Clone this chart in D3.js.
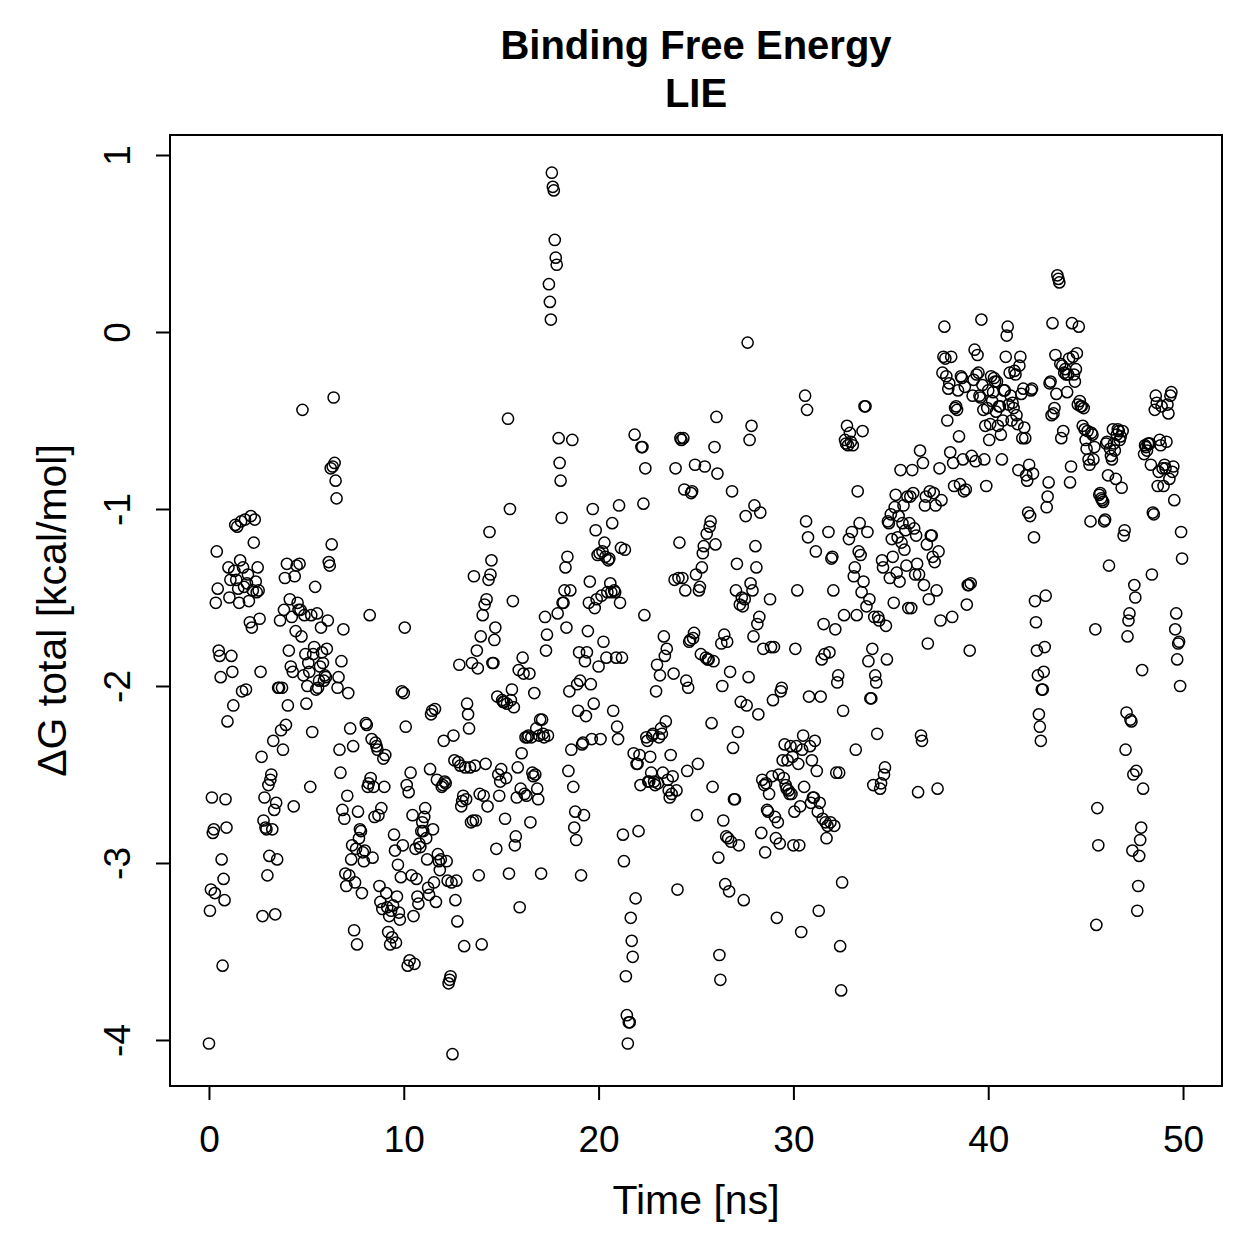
<!DOCTYPE html>
<html>
<head>
<meta charset="utf-8">
<script src="https://cdn.jsdelivr.net/npm/d3@7"></script>
<style>
  body { margin: 0; background: #fff; }
  text { font-family: "Liberation Sans", Arial, Helvetica, sans-serif; }
</style>
</head>
<body>
<div id="chart"></div>
<script>
// LIE binding free energy, one sample every 0.05 ns
const sampleStep = 0.05
const blockStarts = [0, 10, 20, 30, 40]

const dG_0_10 = [
  -4.02,-3.27,-3.15,-2.63,-2.83,-2.81,-3.17,-1.53,-1.24,-1.45,-1.80,-1.83,-1.95,-2.98,-3.58,-3.09,-3.21,-2.64,-2.80,-2.20,
  -1.33,-1.50,-1.40,-1.83,-1.92,-2.11,-1.35,-1.09,-1.40,-1.10,-1.45,-1.53,-1.29,-1.07,-2.03,-1.33,-1.44,-1.06,-2.02,-1.42,
  -1.37,-1.52,-1.64,-1.04,-1.67,-1.46,-1.19,-1.06,-1.41,-1.47,-1.33,-1.46,-1.62,-1.92,-2.40,-3.30,-2.76,-2.63,-2.80,-2.81,
  -3.07,-2.56,-2.96,-2.53,-2.50,-2.81,-2.31,-2.70,-3.29,-2.66,-2.98,-2.01,-2.01,-1.63,-2.25,-2.01,-2.36,-1.57,-1.39,-2.22,
  -1.31,-2.11,-1.80,-1.51,-1.89,-1.61,-1.92,-2.68,-1.38,-1.69,-1.32,-1.53,-1.57,-1.31,-1.57,-1.72,-0.44,-1.94,-1.60,-1.82,
  -2.10,-2.00,-1.87,-1.92,-2.57,-1.60,-2.26,-1.82,-1.78,-1.44,-2.02,-1.59,-2.01,-1.97,-1.89,-1.67,-1.81,-1.87,-1.97,-1.94,
  -1.95,-1.79,-1.63,-1.30,-1.32,-0.77,-1.20,-0.76,-0.37,-0.74,-0.84,-0.94,-2.01,-1.95,-2.36,-2.49,-1.86,-2.70,-1.68,-2.75,
  -3.06,-3.13,-2.62,-2.04,-3.07,-2.24,-2.98,-2.90,-2.34,-3.38,-3.11,-2.92,-3.46,-2.71,-2.86,-2.81,-2.82,-3.17,-2.94,-2.99,
  -2.93,-2.21,-2.22,-2.57,-2.55,-1.60,-2.52,-2.30,-2.97,-2.57,-2.74,-2.32,-2.34,-2.36,-2.73,-3.13,-3.22,-2.69,-3.26,-2.41,
  -2.57,-2.39,-3.17,-3.25,-3.39,-3.30,-3.46,-3.27,-3.42,-3.24,-2.84,-2.93,-3.45,-3.19,-3.01,-3.28,-3.32,-3.08,-2.03,-2.90
]
const dG_10_20 = [
  -2.04,-1.67,-2.23,-2.56,-3.58,-2.60,-3.55,-2.49,-3.07,-2.73,-3.30,-3.57,-2.92,-3.09,-3.19,-3.23,-2.89,-2.91,-2.82,-2.77,
  -2.82,-2.74,-2.69,-2.86,-2.98,-3.14,-3.18,-2.47,-2.16,-2.14,-2.81,-3.11,-2.13,-3.22,-2.53,-2.95,-2.99,-3.04,-2.98,-2.57,
  -2.56,-2.31,-2.54,-2.55,-2.99,-3.10,-3.68,-3.66,-3.64,-3.11,-4.08,-2.28,-2.42,-3.21,-3.10,-3.33,-2.43,-1.88,-2.45,-2.68,
  -2.65,-2.62,-3.47,-2.46,-2.64,-2.10,-2.16,-2.24,-2.46,-2.77,-1.87,-2.76,-1.38,-2.45,-2.76,-1.80,-1.90,-3.07,-2.61,-1.72,
  -3.46,-1.60,-2.62,-1.54,-2.44,-1.51,-2.68,-1.40,-1.13,-1.37,-1.29,-1.87,-1.87,-1.74,-1.67,-2.92,-2.06,-2.50,-2.62,-2.54,
  -2.47,-2.08,-2.09,-2.09,-2.75,-2.52,-2.10,-0.49,-3.06,-1.00,-2.08,-2.02,-1.52,-2.12,-2.90,-2.85,-2.63,-2.46,-1.91,-3.25,
  -2.58,-2.38,-1.84,-1.93,-2.61,-2.29,-2.62,-2.29,-2.28,-1.93,-2.77,-2.29,-2.49,-2.51,-2.04,-2.50,-2.24,-2.58,-2.64,-2.28,
  -2.19,-3.06,-2.19,-2.27,-2.29,-1.61,-1.80,-1.71,-2.28,0.27,0.17,0.07,0.90,0.82,0.80,0.52,0.42,0.38,-1.59,-0.60,
  -0.74,-0.84,-1.05,-1.53,-1.53,-1.46,-1.33,-1.67,-1.27,-2.48,-2.03,-1.46,-2.36,-0.61,-2.57,-2.80,-2.71,-2.87,-1.99,-2.14,
  -1.81,-1.97,-3.07,-2.33,-2.32,-2.73,-1.86,-2.17,-1.81,-1.69,-1.53,-1.41,-1.99,-2.30,-1.00,-2.10,-1.56,-1.12,-1.51,-1.26
]
const dG_20_30 = [
  -1.89,-1.25,-2.30,-1.49,-1.24,-1.75,-1.19,-1.27,-1.84,-1.47,-1.29,-1.28,-1.42,-1.47,-1.08,-2.14,-1.46,-1.47,-1.84,-2.23,
  -2.30,-0.98,-1.53,-1.22,-1.84,-2.84,-2.99,-1.23,-3.64,-3.86,-4.02,-3.90,-3.90,-3.31,-3.44,-3.53,-2.38,-0.58,-3.20,-2.44,
  -2.44,-2.82,-2.39,-2.56,-0.65,-0.65,-0.97,-1.60,-0.77,-2.29,-2.31,-2.54,-2.54,-2.40,-2.49,-2.28,-2.27,-2.54,-2.56,-2.03,
  -1.88,-2.55,-2.29,-1.94,-2.24,-2.27,-2.49,-1.72,-1.83,-2.20,-1.79,-2.53,-2.59,-2.63,-2.39,-2.61,-2.51,-1.93,-1.40,-0.77,
  -2.59,-3.15,-1.39,-1.19,-0.60,-0.61,-1.39,-0.60,-0.89,-1.46,-1.97,-2.48,-2.01,-1.75,-1.74,-0.91,-0.90,-1.73,-1.70,-0.75,
  -1.37,-2.73,-2.44,-1.46,-1.44,-1.82,-1.33,-1.25,-1.21,-0.76,-1.84,-1.14,-1.85,-1.85,-1.10,-1.07,-2.21,-2.57,-1.86,-0.65,
  -1.20,-0.48,-0.80,-2.97,-3.52,-3.66,-1.76,-2.00,-2.76,-1.71,-3.12,-2.85,-1.75,-2.86,-3.16,-1.92,-2.88,-0.90,-2.35,-2.64,
  -2.64,-1.46,-1.31,-2.26,-2.90,-1.54,-2.09,-1.50,-1.55,-3.21,-1.51,-1.04,-2.11,-0.06,-1.95,-0.61,-1.42,-0.53,-1.46,-1.72,
  -0.98,-1.21,-1.33,-1.65,-2.16,-1.61,-1.02,-2.83,-2.53,-1.79,-2.56,-2.94,-2.55,-2.70,-2.71,-2.61,-1.51,-1.78,-2.51,-2.08,
  -1.78,-2.74,-2.86,-3.31,-2.77,-2.50,-2.89,-2.03,-2.01,-2.42,-2.52,-2.33,-2.56,-2.58,-2.42,-2.59,-2.61,-2.34,-2.61,-2.40
]
const dG_30_40 = [
  -2.90,-2.71,-1.79,-2.34,-1.46,-2.44,-2.90,-2.68,-3.39,-2.36,-2.28,-2.57,-0.36,-1.07,-0.44,-1.16,-2.06,-2.34,-2.66,-2.42,
  -2.63,-2.63,-2.31,-1.24,-2.48,-2.71,-3.27,-2.66,-2.06,-1.85,-2.75,-1.65,-1.82,-2.77,-2.86,-2.79,-1.13,-1.81,-2.77,-1.28,
  -1.27,-1.46,-2.79,-1.68,-2.49,-1.98,-1.94,-2.49,-3.47,-3.72,-3.11,-2.14,-1.60,-0.61,-0.63,-0.53,-0.64,-1.17,-0.57,-0.62,
  -1.13,-0.64,-1.38,-1.33,-2.36,-1.60,-0.90,-1.24,-1.08,-1.26,-1.47,-0.56,-1.41,-0.42,-0.42,-1.55,-1.13,-1.86,-1.51,-2.07,
  -2.07,-1.79,-2.56,-1.61,-1.94,-1.98,-2.27,-1.61,-1.63,-2.58,-2.55,-1.29,-1.33,-2.50,-2.46,-1.66,-1.85,-1.07,-1.08,-1.39,
  -1.03,-1.17,-1.27,-1.53,-0.99,-0.92,-1.36,-1.16,-1.04,-1.41,-0.78,-1.19,-1.08,-0.98,-1.23,-1.12,-1.32,-0.93,-1.56,-1.08,
  -0.93,-1.56,-0.78,-0.91,-1.11,-1.37,-1.15,-1.31,-2.60,-1.37,-0.67,-2.28,-2.31,-0.74,-1.43,-0.98,-0.93,-1.20,-1.76,-1.51,
  -0.90,-1.15,-1.15,-1.27,-0.91,-1.30,-0.98,-1.46,-2.58,-1.24,-0.77,-1.63,-0.95,-0.23,-0.14,0.03,-0.15,-0.25,-0.50,-0.32,
  -0.29,-0.68,-0.14,-1.61,-0.74,-0.87,-0.43,-0.42,-0.44,-0.33,-0.59,-0.86,-0.25,-0.26,-0.72,-0.90,-0.31,-0.89,-1.54,-1.43,
  -1.43,-1.80,-1.42,-0.70,-0.36,-0.27,-0.10,-0.73,-0.24,-0.13,-0.23,-0.36,-0.37,0.07,-0.30,-0.44,-0.72,-0.53,-0.87,-0.43
]
const dG_40_50 = [
  -0.33,-0.61,-0.52,-0.25,-0.39,-0.34,-0.26,-0.28,-0.45,-0.28,-0.53,-0.42,-0.42,-0.58,-0.72,-0.50,-0.33,-0.33,-0.14,-0.02,
  0.03,-0.41,-0.23,-0.36,-0.50,-0.40,-0.43,-0.22,-0.24,-0.47,-0.52,-0.78,-0.19,-0.14,-0.35,-0.60,-0.32,-0.54,-0.60,-0.81,
  -0.84,-1.02,-0.75,-1.04,-0.33,-0.32,-0.80,-1.16,-1.52,-1.64,-1.80,-1.94,-2.16,-2.23,-2.31,-2.02,-2.02,-1.92,-1.78,-1.49,
  -0.99,-0.93,-0.85,-0.29,-0.28,-0.47,0.05,-0.46,-0.43,-0.13,-0.35,0.32,0.30,0.28,-0.18,-0.60,-0.19,-0.56,-0.23,-0.21,
  -0.24,-0.34,-0.24,-0.15,-0.85,-0.76,0.05,-0.14,-0.24,-0.28,-0.21,-0.12,-0.41,0.03,-0.39,-0.42,-0.42,-0.53,-0.43,-0.55,
  -0.61,-0.66,-0.56,-0.72,-0.75,-1.07,-0.57,-0.58,-0.72,-0.65,-1.68,-3.35,-2.69,-2.90,-0.92,-0.91,-0.94,-0.95,-0.96,-1.07,
  -1.06,-0.63,-0.62,-0.81,-1.32,-0.66,-0.70,-0.72,-0.55,-0.63,-0.67,-0.83,-0.58,-0.55,-0.56,-0.61,-0.59,-0.88,-0.56,-1.15,
  -1.12,-2.36,-2.15,-1.72,-1.63,-1.59,-2.19,-2.20,-2.93,-2.50,-1.43,-1.50,-2.48,-3.27,-3.13,-2.96,-2.87,-2.80,-1.91,-2.58,
  -0.69,-0.64,-0.65,-0.67,-0.63,-0.63,-0.63,-0.75,-1.37,-1.02,-1.03,-0.44,-0.36,-0.40,-0.87,-0.79,-0.61,-0.64,-0.42,-0.77,
  -0.87,-0.75,-0.77,-0.62,-0.41,-0.46,-0.83,-0.36,-0.34,-0.79,-0.76,-0.95,-1.68,-1.59,-1.85,-1.76,-1.75,-2.00,-1.13,-1.28
]

const xTicks = [0, 10, 20, 30, 40, 50]
const yTicks = [-4, -3, -2, -1, 0, 1]
const titleLines = ["Binding Free Energy", "LIE"]
const xLabel = "Time [ns]"
const yLabel = "ΔG total [kcal/mol]"

const W = 1259, H = 1259
const plot = {left: 170, right: 1222, top: 135, bottom: 1086}

const blocks = [dG_0_10, dG_10_20, dG_20_30, dG_30_40, dG_40_50]
const data = []
blocks.forEach((vals, b) => {
  vals.forEach((v, i) => data.push({t: blockStarts[b] + i * sampleStep, dG: v}))
})

const x = d3.scaleLinear().domain([-2, 52]).range([plot.left, plot.right])
const y = d3.scaleLinear().domain([-4.26, 1.113]).range([plot.bottom, plot.top])

const svg = d3.select("#chart").append("svg")
    .attr("width", W)
    .attr("height", H)

svg.append("rect").attr("width", W).attr("height", H).attr("fill", "#fff")

// points
svg.append("g")
  .selectAll("circle")
  .data(data)
  .join("circle")
    .attr("cx", d => x(d.t))
    .attr("cy", d => y(d.dG))
    .attr("r", 5.6)
    .attr("fill", "none")
    .attr("stroke", "#000")
    .attr("stroke-width", 1.5)

// frame
svg.append("rect")
    .attr("x", plot.left).attr("y", plot.top)
    .attr("width", plot.right - plot.left)
    .attr("height", plot.bottom - plot.top)
    .attr("fill", "none")
    .attr("stroke", "#000")
    .attr("stroke-width", 2)

// x axis
const gx = svg.append("g")
    .attr("transform", `translate(0,${plot.bottom})`)
    .call(d3.axisBottom(x).tickValues(xTicks).tickSize(14).tickFormat(d => String(d)))
gx.select(".domain").remove()
gx.selectAll("line").attr("stroke-width", 2)
gx.selectAll("text")
    .attr("y", 66).attr("dy", 0)
    .attr("font-size", 37).attr("fill", "#000")
    .attr("font-family", "Liberation Sans, Arial, sans-serif")

// y axis, labels parallel to the axis like base R
const gy = svg.append("g")
    .attr("transform", `translate(${plot.left},0)`)
    .call(d3.axisLeft(y).tickValues(yTicks).tickSize(14).tickFormat(d => String(d)))
gy.select(".domain").remove()
gy.selectAll("line").attr("stroke-width", 2)
gy.selectAll("text")
    .attr("x", 0).attr("dy", 0)
    .attr("text-anchor", "middle")
    .attr("transform", "translate(-40,0) rotate(-90)")
    .attr("font-size", 37).attr("fill", "#000")
    .attr("font-family", "Liberation Sans, Arial, sans-serif")

// axis titles
svg.append("text")
    .attr("x", (plot.left + plot.right) / 2)
    .attr("y", 1214)
    .attr("text-anchor", "middle")
    .attr("font-size", 41)
    .text(xLabel)

svg.append("text")
    .attr("transform", `translate(66,${(plot.top + plot.bottom) / 2}) rotate(-90)`)
    .attr("text-anchor", "middle")
    .attr("font-size", 41)
    .text(yLabel)

// title
svg.selectAll(".title")
  .data(titleLines)
  .join("text")
    .attr("class", "title")
    .attr("x", (plot.left + plot.right) / 2)
    .attr("y", (d, i) => 59 + i * 48)
    .attr("text-anchor", "middle")
    .attr("font-size", 40)
    .attr("font-weight", "bold")
    .text(d => d)
</script>
</body>
</html>
